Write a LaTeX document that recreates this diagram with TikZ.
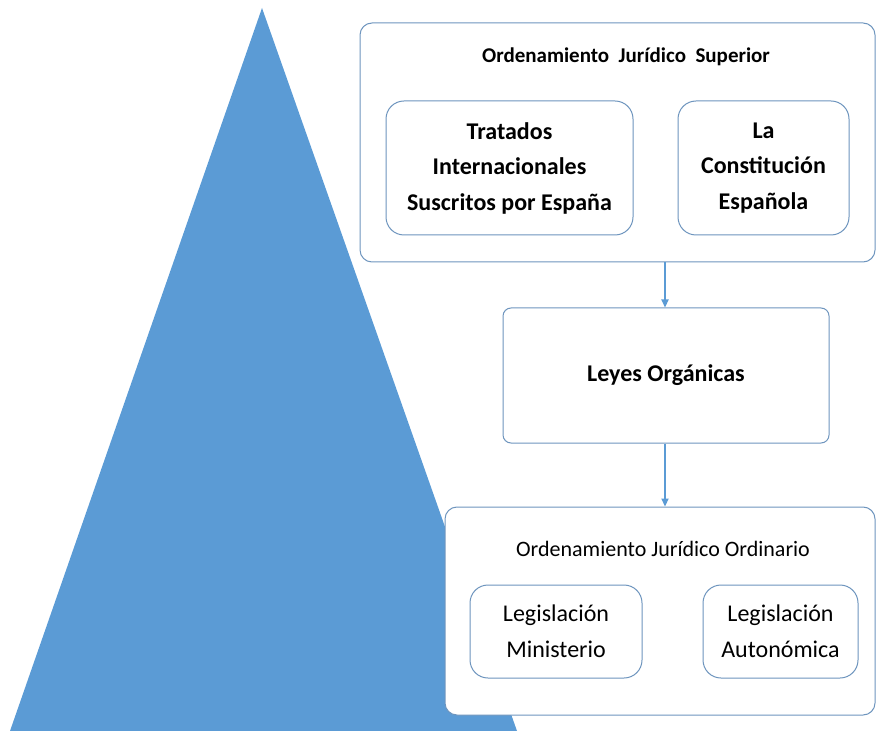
\documentclass[tikz,border=0pt]{standalone}
\usepackage{fontspec}
\setmainfont{Carlito}
\usepackage{tikz}
\usetikzlibrary{arrows.meta,positioning}
\definecolor{piramide}{HTML}{5B9BD5}
\definecolor{borde}{HTML}{6E95BE}
\tikzset{
marco/.style={
  rectangle,
  rounded corners=6pt,
  draw=borde,
  line width=.5pt,
  fill=white,
},
caja/.style={
  rectangle,
  rounded corners=9pt,
  draw=borde,
  line width=.5pt,
  fill=white,
  align=center,
  inner sep=0pt,
},
titulo/.style={
  font=\fontsize{11}{12}\selectfont,
  inner sep=0pt,
},
pil/.style={
  -{Triangle[length=4pt,width=3.6pt]},
  draw=piramide,
  line width=.6pt,
},
}

\begin{document}
\begin{tikzpicture}[x=0.5pt,y=-0.5pt]
\useasboundingbox (0,0) rectangle (876,731);
% piramide
\fill[piramide] (262,8) -- (517,731) -- (10,731) -- cycle;

% ordenamiento superior
\node[marco, minimum width=257.5pt, minimum height=119.5pt] (sup) at (617.5,142.5) {};
\node[titulo, font=\bfseries\fontsize{10.5}{12}\selectfont] (tsup) at (626,57) {Ordenamiento\ \ Jurídico\ \ Superior};
\node[caja, minimum width=123.5pt, minimum height=67pt,
      font=\bfseries\fontsize{12}{17.75}\selectfont] (trat) at (509.5,168)
      {Tratados\\Internacionales\\Suscritos por España};
\node[caja, minimum width=85.5pt, minimum height=67pt,
      font=\bfseries\fontsize{12}{17.75}\selectfont] (const) at (763.5,168)
      {La\\Constitución\\Española};

% leyes organicas
\node[caja, rounded corners=4pt, minimum width=163pt, minimum height=67.5pt,
      font=\bfseries\fontsize{12}{14}\selectfont] (leyes) at (666,375.5) {Leyes Orgánicas};

% ordenamiento ordinario
\node[marco, minimum width=215pt, minimum height=104pt] (ord) at (660,611) {};
\node[titulo] (tord) at (663,549) {Ordenamiento\ Jurídico Ordinario};
\node[caja, minimum width=86pt, minimum height=46.5pt,
      font=\fontsize{12}{18}\selectfont] (minis) at (556,631.5)
      {Legislación\\Ministerio};
\node[caja, minimum width=77.5pt, minimum height=46.5pt,
      font=\fontsize{12}{18}\selectfont] (auton) at (780.5,631.5)
      {Legislación\\Autonómica};

\draw[pil] (sup.south -| 665,0) -- (leyes.north -| 665,0);
\draw[pil] (leyes.south -| 665,0) -- (ord.north -| 665,0);
\end{tikzpicture}
\end{document}
